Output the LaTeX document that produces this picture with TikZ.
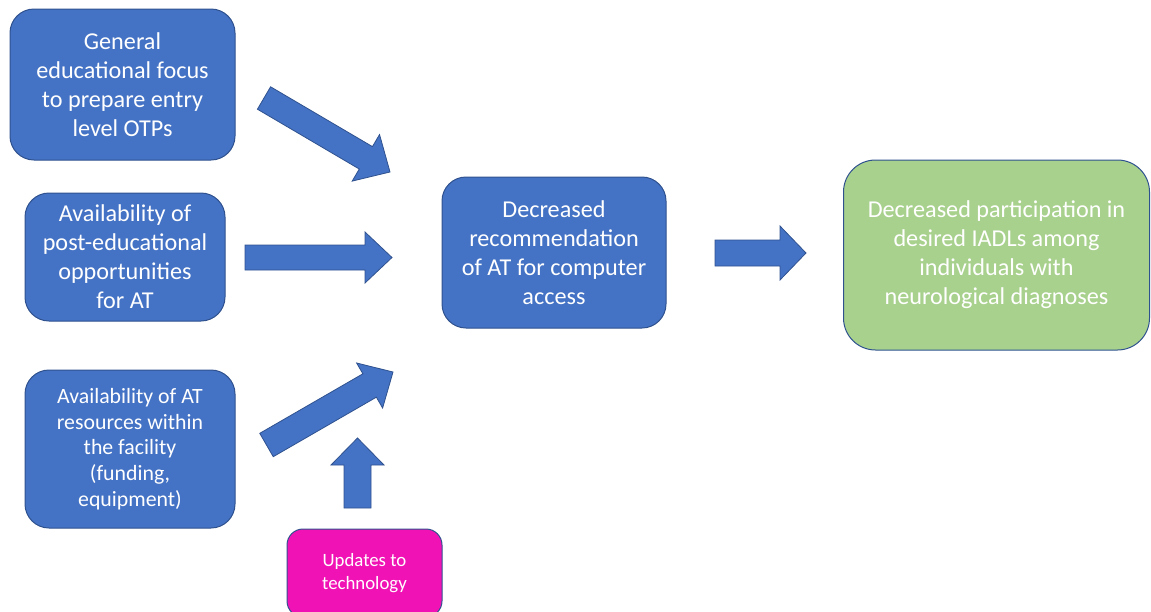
\documentclass[tikz,border=0pt]{standalone}
\usepackage{fontspec}
\setmainfont{Carlito}
\usetikzlibrary{calc}
\definecolor{boxblue}{HTML}{4472C4}
\definecolor{edgeblue}{HTML}{2F528F}
\definecolor{boxgreen}{HTML}{A9D18E}
\definecolor{boxpink}{HTML}{F112B5}
\tikzset{
  box/.style={draw=edgeblue, line width=1pt, fill=boxblue, rounded corners=24pt,
    text=white, align=center, inner sep=0pt, font=\fontsize{24.2}{29}\selectfont},
  barrow/.style={draw=edgeblue, line width=0.8pt, fill=boxblue, line join=miter},
}
% tail, tip, half body width, half head width, head length
\newcommand\blockarrow[5]{%
  \coordinate (ba-b) at ($(#2)!#5!(#1)$);
  \draw[barrow] ($(#1)!#3!90:(#2)$) -- ($(ba-b)!#3!90:(#2)$) -- ($(ba-b)!#4!90:(#2)$)
    -- (#2) -- ($(ba-b)!#4!-90:(#2)$) -- ($(ba-b)!#3!-90:(#2)$) -- ($(#1)!#3!-90:(#2)$) -- cycle;}
\begin{document}
\begin{tikzpicture}[x=1pt,y=-1pt]
\useasboundingbox (0,0) rectangle (1151,611);
\clip (0,0) rectangle (1151,611);
\node[box, minimum width=225pt, minimum height=151pt] (edu) at (122.5,84.5)
  {General\\educational focus\\to prepare entry\\level OTPs};
\node[box, minimum width=200pt, minimum height=128pt] (post) at (125,257)
  {Availability of\\post-educational\\opportunities\\for AT};
\node[box, minimum width=210pt, minimum height=158pt, font=\fontsize{21.8}{25.7}\selectfont] (res) at (130,449)
  {Availability of AT\\resources within\\the facility\\(funding,\\equipment)};
\node[box, fill=boxpink, rounded corners=16pt, minimum width=155pt, minimum height=88pt, font=\fontsize{18.8}{23}\selectfont] (upd) at (364.5,573)
  {Updates to\\technology};
\node[box, minimum width=224pt, minimum height=151pt] (rec) at (554,252.5)
  {Decreased\\recommendation\\of AT for computer\\access};
\node[box, fill=boxgreen, rounded corners=32pt, minimum width=306pt, minimum height=190pt] (part) at (996.5,255)
  {Decreased participation in\\desired IADLs among\\individuals with\\neurological diagnoses};
% block arrows
\coordinate (a1t) at (264,98);    \coordinate (a1h) at (390,172);
\coordinate (a2t) at (245,257.5); \coordinate (a2h) at (392,257.5);
\coordinate (a3t) at (266.5,445); \coordinate (a3h) at (393,372);
\coordinate (a4t) at (357.5,508); \coordinate (a4h) at (357.5,438);
\coordinate (a5t) at (715,253);   \coordinate (a5h) at (806,253);
\blockarrow{a1t}{a1h}{13pt}{27pt}{28pt}
\blockarrow{a2t}{a2h}{12.5pt}{25.5pt}{27pt}
\blockarrow{a3t}{a3h}{13.5pt}{26pt}{27pt}
\blockarrow{a4t}{a4h}{13.5pt}{26.5pt}{27pt}
\blockarrow{a5t}{a5h}{13pt}{27pt}{26pt}
\end{tikzpicture}
\end{document}
